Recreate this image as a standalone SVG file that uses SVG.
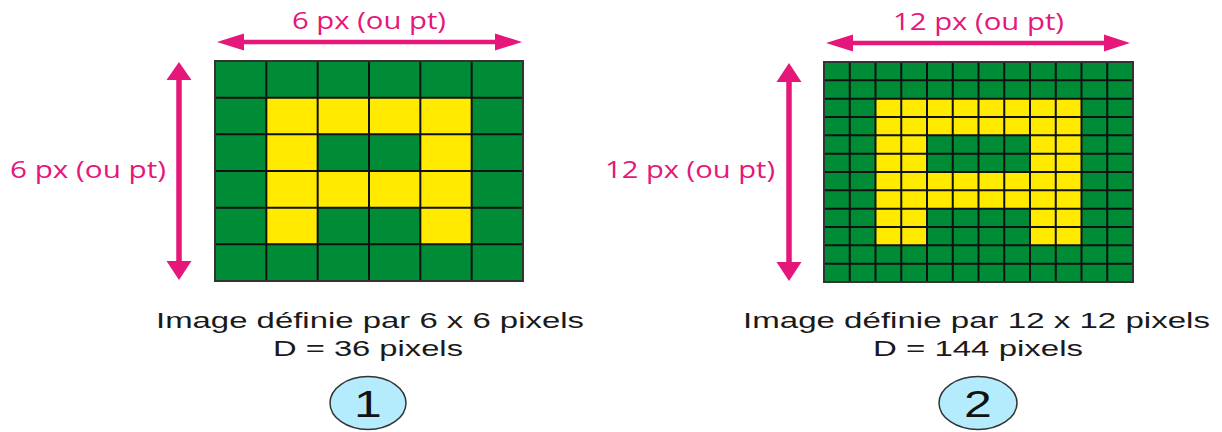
<svg xmlns="http://www.w3.org/2000/svg" width="1222" height="432" viewBox="0 0 1222 432">
<style>
.bg{fill:#ffffff}
.green{fill:#008c37}
.yellow{fill:#ffea00}
.grid{fill:none;stroke:#111111;stroke-width:2}
.border{fill:none;stroke:#333333;stroke-width:2}
.pinkline{stroke:#e5177a;fill:none}
.pinkhead{fill:#e5177a}
.pink{font-family:"Open Sans","Liberation Sans",sans-serif;font-size:23px;fill:#e5177a}
.cap{font-family:"Liberation Sans",Arial,sans-serif;font-size:22.5px;fill:#1a1a1a}
.badge{fill:#b5ecfd;stroke:#333333;stroke-width:1.5}
.num{font-family:"Liberation Sans",Arial,sans-serif;font-size:37px;fill:#111111;text-anchor:middle}
</style>
<rect class="bg" x="0" y="0" width="1222" height="432"/>

<g id="grid1">
  <rect class="green" x="215" y="61" width="308" height="220"/>
  <rect class="yellow" x="266.33" y="97.67" width="205.33" height="36.67"/>
  <rect class="yellow" x="266.33" y="171" width="205.33" height="36.67"/>
  <rect class="yellow" x="266.33" y="97.67" width="51.33" height="146.67"/>
  <rect class="yellow" x="420.33" y="97.67" width="51.33" height="146.67"/>
  <path class="grid" d="M266.33 61V281M317.67 61V281M369 61V281M420.33 61V281M471.67 61V281M215 97.67H523M215 134.33H523M215 171H523M215 207.67H523M215 244.33H523"/>
  <rect class="border" x="215" y="61" width="308" height="220"/>
</g>

<g id="grid2">
  <rect class="green" x="824" y="62" width="309" height="220"/>
  <rect class="yellow" x="875.5" y="98.67" width="206" height="36.67"/>
  <rect class="yellow" x="875.5" y="172" width="206" height="36.67"/>
  <rect class="yellow" x="875.5" y="98.67" width="51.5" height="146.67"/>
  <rect class="yellow" x="1030" y="98.67" width="51.5" height="146.67"/>
  <path class="grid" d="M849.75 62V282M875.5 62V282M901.25 62V282M927 62V282M952.75 62V282M978.5 62V282M1004.25 62V282M1030 62V282M1055.75 62V282M1081.5 62V282M1107.25 62V282M824 80.33H1133M824 98.67H1133M824 117H1133M824 135.33H1133M824 153.67H1133M824 172H1133M824 190.33H1133M824 208.67H1133M824 227H1133M824 245.33H1133M824 263.67H1133"/>
  <rect class="border" x="824" y="62" width="309" height="220"/>
</g>

<g id="connectors">
  <line class="pinkline" x1="240" y1="42" x2="498" y2="42" stroke-width="4.5"/>
  <polygon class="pinkhead" points="217,42 244,33.5 244,50.5"/>
  <polygon class="pinkhead" points="522,42 495,33.5 495,50.5"/>
  <line class="pinkline" x1="179" y1="78" x2="179" y2="264" stroke-width="5.5"/>
  <polygon class="pinkhead" points="179,62 166.5,80 191.5,80"/>
  <polygon class="pinkhead" points="179,280 166.5,261 191.5,261"/>

  <line class="pinkline" x1="850" y1="43" x2="1108" y2="43" stroke-width="4.5"/>
  <polygon class="pinkhead" points="826,43 853,34.5 853,51.5"/>
  <polygon class="pinkhead" points="1130,43 1104,34.5 1104,51.5"/>
  <line class="pinkline" x1="789" y1="79" x2="789" y2="265" stroke-width="5.5"/>
  <polygon class="pinkhead" points="789,63 776.5,82 801.5,82"/>
  <polygon class="pinkhead" points="789,281 776.5,262 801.5,262"/>
</g>

<g id="labels1">
  <text class="pink" x="292" y="29" textLength="154" lengthAdjust="spacingAndGlyphs">6 px (ou pt)</text>
  <text class="pink" x="10" y="178" textLength="156" lengthAdjust="spacingAndGlyphs">6 px (ou pt)</text>
  <text class="cap" x="156" y="328" textLength="428" lengthAdjust="spacingAndGlyphs">Image définie par 6 x 6 pixels</text>
  <text class="cap" x="273" y="356" textLength="190" lengthAdjust="spacingAndGlyphs">D = 36 pixels</text>
</g>

<g id="labels2">
  <text class="pink" x="893" y="30" textLength="171" lengthAdjust="spacingAndGlyphs">12 px (ou pt)</text>
  <text class="pink" x="605" y="178" textLength="170" lengthAdjust="spacingAndGlyphs">12 px (ou pt)</text>
  <text class="cap" x="743" y="328" textLength="467" lengthAdjust="spacingAndGlyphs">Image définie par 12 x 12 pixels</text>
  <text class="cap" x="873" y="356" textLength="210" lengthAdjust="spacingAndGlyphs">D = 144 pixels</text>
</g>

<g id="badge1">
  <ellipse class="badge" cx="368" cy="403" rx="38" ry="26.5"/>
  <text class="num" transform="translate(368,417) scale(1.35,1)" x="0" y="0">1</text>
</g>

<g id="badge2">
  <ellipse class="badge" cx="978" cy="403" rx="39" ry="26.5"/>
  <text class="num" transform="translate(978,417) scale(1.35,1)" x="0" y="0">2</text>
</g>
</svg>
